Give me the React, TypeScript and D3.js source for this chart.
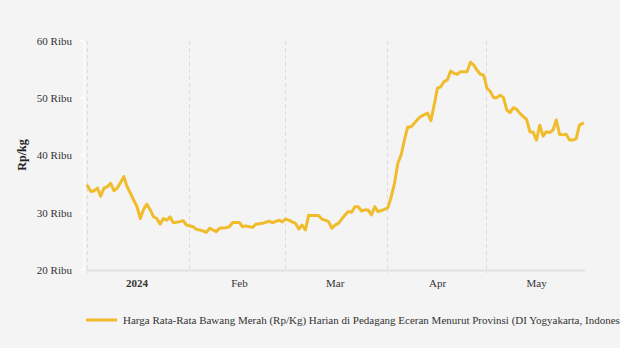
import React from "react";
import * as d3 from "d3";

const dates: string[] = [
  "2024-01-01","2024-01-02","2024-01-03","2024-01-04","2024-01-05","2024-01-06","2024-01-07","2024-01-08","2024-01-09","2024-01-10",
  "2024-01-11","2024-01-12","2024-01-13","2024-01-14","2024-01-15","2024-01-16","2024-01-17","2024-01-18","2024-01-19","2024-01-20",
  "2024-01-21","2024-01-22","2024-01-23","2024-01-24","2024-01-25","2024-01-26","2024-01-27","2024-01-29","2024-01-30","2024-01-31",
  "2024-02-02","2024-02-03","2024-02-04","2024-02-06","2024-02-07","2024-02-09","2024-02-10","2024-02-12","2024-02-13","2024-02-14",
  "2024-02-16","2024-02-17","2024-02-18","2024-02-20","2024-02-21","2024-02-23","2024-02-25","2024-02-26","2024-02-28","2024-02-29",
  "2024-03-01","2024-03-02","2024-03-03","2024-03-04","2024-03-05","2024-03-06","2024-03-07","2024-03-08","2024-03-09","2024-03-11",
  "2024-03-12","2024-03-13","2024-03-14","2024-03-15","2024-03-16","2024-03-17","2024-03-19","2024-03-20","2024-03-21","2024-03-22",
  "2024-03-23","2024-03-24","2024-03-25","2024-03-26","2024-03-27","2024-03-28","2024-03-29","2024-03-30","2024-03-31",
  "2024-04-01","2024-04-02","2024-04-03","2024-04-04","2024-04-05","2024-04-06","2024-04-07","2024-04-08","2024-04-10","2024-04-11",
  "2024-04-13","2024-04-14","2024-04-15","2024-04-16","2024-04-17","2024-04-18","2024-04-19","2024-04-20","2024-04-21","2024-04-22",
  "2024-04-23","2024-04-25","2024-04-26","2024-04-27","2024-04-28","2024-04-29","2024-04-30",
  "2024-05-01","2024-05-02","2024-05-03","2024-05-04","2024-05-05","2024-05-06","2024-05-07","2024-05-08","2024-05-09","2024-05-10",
  "2024-05-11","2024-05-12","2024-05-13","2024-05-14","2024-05-15","2024-05-16","2024-05-17","2024-05-18","2024-05-19","2024-05-20",
  "2024-05-21","2024-05-22","2024-05-23","2024-05-24","2024-05-25","2024-05-26","2024-05-27","2024-05-28","2024-05-29","2024-05-30",
];

const prices: number[] = [
  34700,33700,33850,34300,32900,34300,34550,35150,33850,34300,
  35250,36300,34550,33400,32200,31050,29000,30600,31500,30500,
  29300,29000,28000,29000,28700,29300,28250,28450,28600,27850,
  27550,27100,27000,26600,27300,26700,27300,27400,27550,28300,
  28300,27550,27700,27450,28000,28150,28550,28250,28700,28400,
  28900,28700,28400,28150,27150,27850,27000,29550,29500,29500,
  28900,28700,28450,27300,27850,28150,29600,30200,30100,31050,
  31050,30300,30500,30500,29600,31050,30200,30400,30600,
  30900,32800,35150,38650,40100,42700,45000,45000,46300,46850,
  47400,46100,48800,51750,52000,52900,53200,54750,54350,54200,
  54650,54650,56300,55800,54900,54200,54050,
  51750,51200,50100,50100,50550,50100,47950,47500,48350,48050,
  47350,46800,46300,44150,44050,42700,45300,43400,44150,44000,
  44450,46200,43700,43600,43700,42700,42700,42900,45300,45600,
];

const yTicks: number[] = [20000, 30000, 40000, 50000, 60000];
const monthStarts: string[] = ["2024-01-01", "2024-02-01", "2024-03-01", "2024-04-01", "2024-05-01"];
const monthLabels: string[] = ["2024", "Feb", "Mar", "Apr", "May"];
const monthLabelDates: string[] = ["2024-01-16T08:00", "2024-02-16T08:00", "2024-03-16T08:00", "2024-04-16T08:00", "2024-05-16T08:00"];
const seriesName =
  "Harga Rata-Rata Bawang Merah (Rp/Kg) Harian di Pedagang Eceran Menurut Provinsi (DI Yogyakarta, Indonesia)";

const W = 620;
const H = 348;
const FONT = "'Liberation Serif', 'Times New Roman', serif";
const LINE_COLOR = "#F0BC2B";

export default function App() {
  const parse = (s: string) => new Date(s.length > 10 ? s : s + "T00:00");
  const x = d3
    .scaleTime()
    .domain([parse("2024-01-01"), parse("2024-05-31")])
    .range([86.5, 585]);
  const y = d3.scaleLinear().domain([20000, 60000]).range([270, 41]);

  const data = dates.map((d, i) => ({ date: parse(d), v: prices[i] }));
  const line = d3
    .line<{ date: Date; v: number }>()
    .x((d) => x(d.date) + 1)
    .y((d) => y(d.v));

  return (
    <svg
      width={W}
      height={H}
      style={{ position: "fixed", left: 0, top: 0, background: "#f4f4f4" }}
      fontFamily={FONT}
    >
      <rect x={0} y={0} width={W} height={H} fill="#f4f4f4" />
      {/* y axis white line and ticks */}
      <line x1={84} x2={84} y1={41} y2={270} stroke="#ffffff" strokeWidth={1} />
      {yTicks.map((t) => (
        <g key={t}>
          <line x1={79} x2={84} y1={y(t)} y2={y(t)} stroke="#ffffff" strokeWidth={1.5} />
          <text x={72} y={y(t)} dy="0.35em" textAnchor="end" fontSize={11} fill="#333">
            {`${t / 1000} Ribu`}
          </text>
        </g>
      ))}
      {/* vertical dashed gridlines */}
      {monthStarts.map((m) => (
        <line
          key={m}
          x1={Math.round(x(parse(m))) + 0.5}
          x2={Math.round(x(parse(m))) + 0.5}
          y1={41}
          y2={273}
          stroke="#dcdcdc"
          strokeWidth={1}
          strokeDasharray="4,3"
        />
      ))}
      {/* x axis line */}
      <line x1={86} x2={585} y1={270.5} y2={270.5} stroke="#e2e2e2" strokeWidth={2} />
      {monthLabels.map((l, i) => (
        <text
          key={l}
          x={x(parse(monthLabelDates[i]))}
          y={287}
          textAnchor="middle"
          fontSize={11}
          fill="#333"
          fontWeight={i === 0 ? "bold" : "normal"}
        >
          {l}
        </text>
      ))}
      {/* y axis title */}
      <text
        transform={`translate(26,155) rotate(-90)`}
        textAnchor="middle"
        fontSize={12}
        fontWeight="bold"
        fill="#222"
      >
        Rp/kg
      </text>
      {/* series */}
      <path
        d={line(data) || ""}
        fill="none"
        stroke={LINE_COLOR}
        strokeWidth={3}
        strokeLinejoin="round"
        strokeLinecap="round"
      />
      {/* legend */}
      <line x1={86} x2={117} y1={320} y2={320} stroke={LINE_COLOR} strokeWidth={3} />
      <text x={123} y={320} dy="0.35em" fontSize={11} fill="#333">
        {seriesName}
      </text>
    </svg>
  );
}
